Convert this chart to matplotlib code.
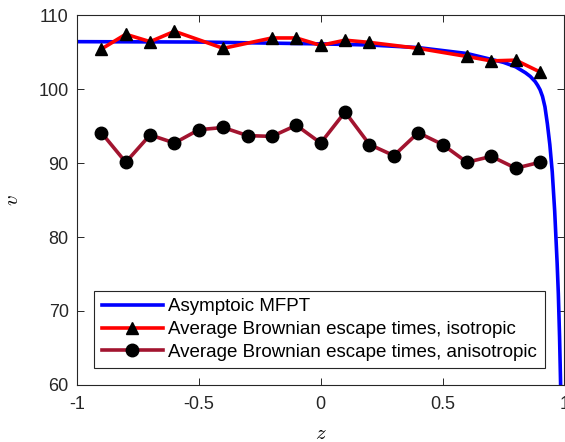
import numpy as np
from matplotlib import pyplot as plt

plt.rcParams['font.family'] = ['Liberation Sans', 'DejaVu Sans']
plt.rcParams['mathtext.fontset'] = 'cm'

# asymptotic MFPT curve
z_mfpt = [-1.0, -0.5, 0.0, 0.2, 0.4, 0.6, 0.65, 0.7, 0.75, 0.8, 0.84, 0.86,
          0.88, 0.89, 0.9, 0.91, 0.92, 0.93, 0.94, 0.95, 0.96, 0.965, 0.97,
          0.975, 0.98, 0.984, 0.987]
v_mfpt = [106.4, 106.35, 106.1, 105.95, 105.6, 104.8, 104.4, 104.0, 103.6,
          103.0, 102.2, 101.7, 101.0, 100.5, 99.9, 99.0, 97.6, 95.3, 92.5,
          88.8, 83.5, 80.0, 76.5, 72.3, 66.5, 60.5, 55.0]

# isotropic escape times
z_iso = [-0.9, -0.8, -0.7, -0.6, -0.4, -0.2, -0.1, 0.0, 0.1, 0.2, 0.4, 0.6, 0.7, 0.8, 0.9]
v_iso = [105.4, 107.4, 106.4, 107.8, 105.5, 106.9, 106.9, 105.9, 106.6, 106.3,
         105.5, 104.4, 103.8, 103.9, 102.3]

# anisotropic escape times
z_aniso = [-0.9, -0.8, -0.7, -0.6, -0.5, -0.4, -0.3, -0.2, -0.1, 0.0,
           0.1, 0.2, 0.3, 0.4, 0.5, 0.6, 0.7, 0.8, 0.9]
v_aniso = [94.1, 90.1, 93.8, 92.7, 94.5, 94.8, 93.7, 93.6, 95.1, 92.7,
           96.9, 92.5, 91.0, 94.1, 92.5, 90.1, 90.9, 89.3, 90.1]

fig = plt.figure(figsize=(5.65, 4.42), dpi=100)
ax = fig.add_axes([0.1363, 0.129, 0.8627, 0.837])

ax.plot(z_mfpt, v_mfpt, color='#0000ff', lw=2.6, label='Asymptoic MFPT')
ax.plot(z_iso, v_iso, color='#ff0000', lw=2.6, marker='^', ms=9,
        mfc='black', mec='black', label='Average Brownian escape times, isotropic')
ax.plot(z_aniso, v_aniso, color='#a2142f', lw=2.6, marker='o', ms=9,
        mfc='black', mec='black', label='Average Brownian escape times, anisotropic')

ax.set_xlim(-1, 1)
ax.set_ylim(60, 110)
ax.set_xticks([-1, -0.5, 0, 0.5, 1])
ax.set_xticklabels(['-1', '-0.5', '0', '0.5', '1'])
ax.set_yticks([60, 70, 80, 90, 100, 110])
ax.tick_params(direction='in', top=True, right=True, labelsize=13,
               length=5, width=0.7, colors='#262626', pad=6)
ax.tick_params(axis='x', pad=8)
for sp in ax.spines.values():
    sp.set_linewidth(0.8)
    sp.set_color('#262626')

ax.set_xlabel('$z$', fontsize=15, labelpad=8)
ax.set_ylabel('$v$', fontsize=15, labelpad=12)

leg = ax.legend(loc='lower left', bbox_to_anchor=(0.035, 0.045), fontsize=13.5,
                handlelength=3.25, handletextpad=0.3, borderpad=0.4,
                labelspacing=0.3, fancybox=False, framealpha=1,
                edgecolor='#262626', borderaxespad=0)
leg.get_frame().set_linewidth(0.8)

plt.savefig('out.png')
